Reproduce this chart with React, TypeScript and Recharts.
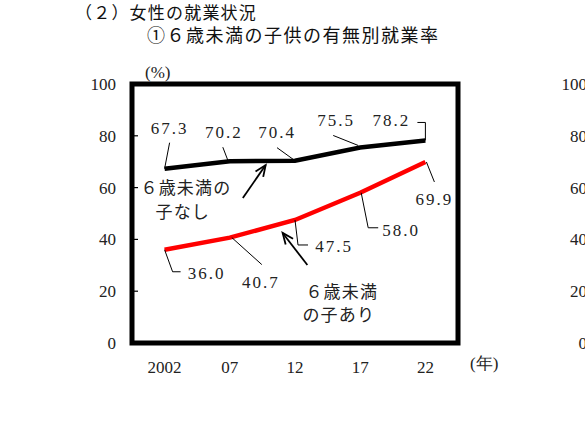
import {
  Line,
  LineChart,
  ReferenceArea,
  ReferenceDot,
  ReferenceLine,
  XAxis,
  YAxis
} from 'recharts'

const years = ['2002', '07', '12', '17', '22']
const withoutChild = [67.3, 70.2, 70.4, 75.5, 78.2]
const withChild = [36.0, 40.7, 47.5, 58.0, 69.9]
const yTicks = [0, 20, 40, 60, 80, 100]

const data = years.map((year, i) => ({
  i,
  year,
  without: withoutChild[i],
  with: withChild[i]
}))

// leader-line offsets from each point, and where the value text sits
const blackLabelLayout = [
  { leader: [[0, 0], [5, -26]], text: [5, -41] },
  { leader: [[-2, -1], [-7, -14]], text: [-6, -29] },
  { leader: [[0, 0], [-18, -13]], text: [-18, -29] },
  { leader: [[-2, -2], [-27, -12]], text: [-24, -27] },
  { leader: [[0, 0], [0, -18], [-8, -18]], text: [-34, -20] }
]
const redLabelLayout = [
  { leader: [[0, 0], [8, 22], [16, 22]], text: [42, 23] },
  { leader: [[2, 0], [32, 27]], text: [31, 44] },
  { leader: [[0, 0], [3, 25], [13, 25]], text: [39, 26] },
  { leader: [[1, 0], [8, 35], [18, 35]], text: [41, 37] },
  { leader: [[1, 0], [9, 20]], text: [9, 37] }
]

const serif = '"Liberation Serif", "DejaVu Serif", serif'
const cjk = '"Noto Sans CJK JP", "Noto Sans", sans-serif'

const makeDot = (values: number[], layout: typeof blackLabelLayout) => (props: any) => {
  const { cx, cy, index } = props
  const l = layout[index]
  if (cx == null || cy == null || !l) return <g key={`d${index}`} />
  return (
    <g key={`d${index}`}>
      <polyline
        points={l.leader.map(([dx, dy]) => `${cx + dx},${cy + dy}`).join(' ')}
        fill="none"
        stroke="#000"
        strokeWidth={1}
      />
      <text
        x={cx + l.text[0]}
        y={cy + l.text[1]}
        dy="0.35em"
        textAnchor="middle"
        style={{ fontFamily: serif, fontSize: 17, letterSpacing: 2 }}
        fill="#222"
      >
        {values[index].toFixed(1)}
      </text>
    </g>
  )
}

function Arrow(props: any) {
  const { x1, y1, x2, y2 } = props
  const a = Math.atan2(y2 - y1, x2 - x1)
  const len = 12
  const spread = 0.4
  const b1x = x2 - len * Math.cos(a - spread)
  const b1y = y2 - len * Math.sin(a - spread)
  const b2x = x2 - len * Math.cos(a + spread)
  const b2y = y2 - len * Math.sin(a + spread)
  return (
    <g>
      <line x1={x1} y1={y1} x2={x2} y2={y2} stroke="#000" strokeWidth={1.8} />
      <polyline
        points={`${b1x},${b1y} ${x2},${y2} ${b2x},${b2y}`}
        fill="none"
        stroke="#000"
        strokeWidth={1.8}
      />
    </g>
  )
}

const noteLines = (lines: string[], shift: number[]) => (props: any) => {
  const { cx, cy } = props
  return (
    <g>
      {lines.map((t, k) => (
        <text
          key={t}
          x={cx + (k === 0 ? 0 : shift[0])}
          y={cy + (k === 0 ? 0 : shift[1])}
          dy="0.35em"
          style={{ fontFamily: cjk, fontSize: 17, letterSpacing: 1.2 }}
          fill="#222"
        >
          {t}
        </text>
      ))}
    </g>
  )
}

const tickStyle = { fontFamily: serif, fontSize: 17, fill: '#222' }

export default function App() {
  return (
    <div
      style={{
        position: 'absolute',
        left: 0,
        top: 0,
        width: 585,
        height: 444,
        overflow: 'hidden',
        background: '#fff'
      }}
    >
      <svg
        width={585}
        height={444}
        style={{ position: 'absolute', left: 0, top: 0, pointerEvents: 'none' }}
      >
        <text x={75} y={13} dy="0.35em" style={{ fontFamily: cjk, fontSize: 17, letterSpacing: 1.2 }} fill="#111">
          （２）女性の就業状況
        </text>
        <text x={147} y={36} dy="0.35em" style={{ fontFamily: cjk, fontSize: 18, letterSpacing: 1.5 }} fill="#111">
          ①６歳未満の子供の有無別就業率
        </text>
        <text x={145} y={72} dy="0.35em" style={{ fontFamily: serif, fontSize: 17 }} fill="#222">
          (%)
        </text>
        <text x={470} y={363} dy="0.35em" style={{ fontFamily: serif, fontSize: 17 }} fill="#222">
          (年)
        </text>
      </svg>
      <div style={{ position: 'absolute', left: 0, top: 0 }}>
        <LineChart
          width={585}
          height={444}
          data={data}
          margin={{ top: 84, right: 122, bottom: 71, left: 72 }}
        >
          <XAxis
            dataKey="i"
            type="number"
            domain={[-0.5, 4.5]}
            ticks={[0, 1, 2, 3, 4]}
            tickFormatter={(v: number) => years[v]}
            axisLine={false}
            tickLine={false}
            tickSize={0}
            tickMargin={18}
            height={30}
            tick={tickStyle}
          />
          <YAxis
            yAxisId="L"
            domain={[0, 100]}
            ticks={yTicks}
            axisLine={false}
            tickLine={{ stroke: '#000', strokeWidth: 1.2 }}
            tickSize={-6}
            tickMargin={22}
            width={60}
            tick={tickStyle}
          />
          {/* tick labels of the neighbouring panel, cut off at the right edge */}
          <YAxis
            yAxisId="R"
            orientation="right"
            domain={[0, 100]}
            ticks={yTicks}
            axisLine={false}
            tickLine={false}
            tickSize={0}
            tickMargin={129}
            width={5}
            tick={{ ...tickStyle, textAnchor: 'end' }}
          />
          <Line
            yAxisId="R"
            dataKey="without"
            stroke="none"
            strokeOpacity={0}
            dot={false}
            activeDot={false}
            legendType="none"
            isAnimationActive={false}
          />
          <ReferenceArea
            yAxisId="L"
            x1={-0.5}
            x2={4.5}
            y1={0}
            y2={100}
            fill="none"
            stroke="#000"
            strokeWidth={5}
          />
          <Line
            yAxisId="L"
            dataKey="without"
            type="linear"
            stroke="#000"
            strokeWidth={4.5}
            dot={makeDot(withoutChild, blackLabelLayout)}
            activeDot={false}
            isAnimationActive={false}
          />
          <Line
            yAxisId="L"
            dataKey="with"
            type="linear"
            stroke="#ff0000"
            strokeWidth={4.5}
            dot={makeDot(withChild, redLabelLayout)}
            activeDot={false}
            isAnimationActive={false}
          />
          <ReferenceLine
            yAxisId="L"
            segment={[
              { x: 1.2, y: 56.0 },
              { x: 1.55, y: 68.7 }
            ]}
            shape={Arrow}
          />
          <ReferenceLine
            yAxisId="L"
            segment={[
              { x: 2.19, y: 30.1 },
              { x: 1.81, y: 42.5 }
            ]}
            shape={Arrow}
          />
          <ReferenceDot
            yAxisId="L"
            x={-0.37}
            y={59.8}
            r={0}
            shape={noteLines(['６歳未満の', '子なし'], [15, 24])}
          />
          <ReferenceDot
            yAxisId="L"
            x={2.16}
            y={19.7}
            r={0}
            shape={noteLines(['６歳未満', 'の子あり'], [-3, 23])}
          />
        </LineChart>
      </div>
    </div>
  )
}
